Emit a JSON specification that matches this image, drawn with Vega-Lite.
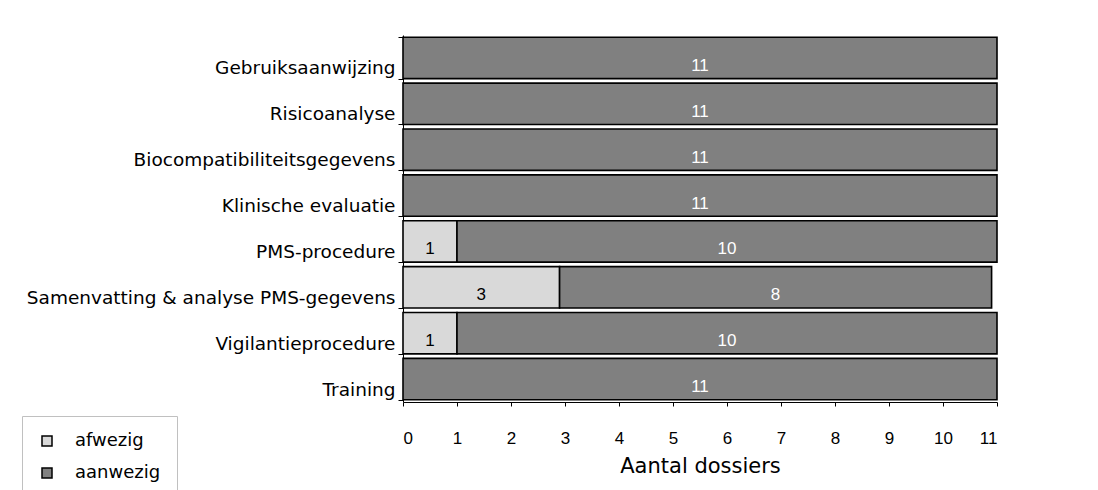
{
  "$schema": "https://vega.github.io/schema/vega-lite/v6.json",
  "width": 594,
  "height": 367,
  "autosize": {"type": "none"},
  "padding": {"left": 403, "top": 35, "right": 101, "bottom": 88},
  "background": "white",
  "config": {
    "font": "DejaVu Sans",
    "view": {"stroke": null}
  },
  "data": {
    "values": [
      {"cat": "Gebruiksaanwijzing", "type": "aanwezig", "ord": 2, "value": 11},
      {"cat": "Risicoanalyse", "type": "aanwezig", "ord": 2, "value": 11},
      {"cat": "Biocompatibiliteitsgegevens", "type": "aanwezig", "ord": 2, "value": 11},
      {"cat": "Klinische evaluatie", "type": "aanwezig", "ord": 2, "value": 11},
      {"cat": "PMS-procedure", "type": "afwezig", "ord": 1, "value": 1},
      {"cat": "PMS-procedure", "type": "aanwezig", "ord": 2, "value": 10},
      {"cat": "Samenvatting & analyse PMS-gegevens", "type": "afwezig", "ord": 1, "value": 2.9},
      {"cat": "Samenvatting & analyse PMS-gegevens", "type": "aanwezig", "ord": 2, "value": 8},
      {"cat": "Vigilantieprocedure", "type": "afwezig", "ord": 1, "value": 1},
      {"cat": "Vigilantieprocedure", "type": "aanwezig", "ord": 2, "value": 10},
      {"cat": "Training", "type": "aanwezig", "ord": 2, "value": 11}
    ]
  },
  "encoding": {
    "y": {
      "field": "cat",
      "type": "nominal",
      "sort": null,
      "scale": {"paddingInner": 0.1, "paddingOuter": 0.05},
      "axis": {
        "title": null,
        "domainColor": "black",
        "tickColor": "black",
        "tickSize": 5,
        "tickBand": "extent",
        "labelFontSize": 18.5,
        "labelColor": "black",
        "labelPadding": 3,
        "labelOffset": 10,
        "labelLimit": 400
      }
    },
    "order": {"field": "ord", "type": "quantitative"}
  },
  "layer": [
    {
      "mark": {"type": "bar", "stroke": "black", "strokeWidth": 1.6},
      "encoding": {
        "x": {
          "field": "value",
          "type": "quantitative",
          "stack": "zero",
          "scale": {"domain": [0, 11], "nice": false},
          "axis": {
            "title": "Aantal dossiers",
            "values": [0, 1, 2, 3, 4, 5, 6, 7, 8, 9, 10, 11],
            "grid": false,
            "domainColor": "black",
            "tickColor": "black",
            "tickSize": 4,
            "labelFont": "Liberation Sans",
            "labelFontSize": 17,
            "labelColor": "black",
            "labelPadding": 24,
            "titleFontSize": 21,
            "titleFontWeight": "normal",
            "titleColor": "black",
            "titlePadding": 9
          }
        },
        "color": {
          "field": "type",
          "type": "nominal",
          "scale": {"domain": ["afwezig", "aanwezig"], "range": ["#d9d9d9", "#808080"]},
          "legend": {
            "title": null,
            "orient": "none",
            "legendX": -381,
            "legendY": 381,
            "symbolType": "square",
            "symbolSize": 100,
            "symbolStrokeColor": "black",
            "symbolStrokeWidth": 1.5,
            "labelFontSize": 18,
            "labelColor": "black",
            "labelOffset": 19,
            "rowPadding": 14,
            "padding": 16,
            "strokeColor": "#c0c0c0",
            "fillColor": "white"
          }
        }
      }
    },
    {
      "mark": {"type": "text", "font": "Liberation Sans", "fontSize": 17, "baseline": "middle", "dy": 8},
      "encoding": {
        "x": {"field": "value", "type": "quantitative", "stack": "zero", "bandPosition": 0.5},
        "text": {"field": "value", "type": "quantitative", "format": ".0f"},
        "color": {
          "condition": {"test": "datum.type === 'afwezig'", "value": "black"},
          "value": "white"
        }
      }
    }
  ]
}
